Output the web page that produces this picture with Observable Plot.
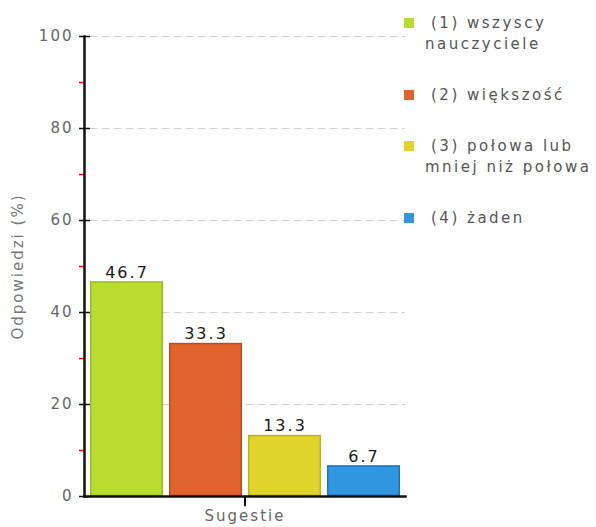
<!DOCTYPE html>
<html>
<head>
<meta charset="utf-8">
<script src="https://cdn.jsdelivr.net/npm/d3@7"></script>
<script src="https://cdn.jsdelivr.net/npm/@observablehq/plot@0.6"></script>
<style>
  body { margin: 0; background: #fff; }
  #wrap { position: relative; width: 596px; height: 527px; font-family: "DejaVu Sans", Verdana, sans-serif; }
  #legend { position: absolute; left: 404px; top: 13px; width: 192px; }
  .item { position: relative; margin-bottom: 30px; font-size: 15px; line-height: 21px; color: #555; letter-spacing: 2.5px; }
  .sw { position: absolute; left: 0; top: 5px; width: 10px; height: 10px; }
  .lbl { margin-left: 21px; text-indent: 6px; white-space: pre; }
</style>
</head>
<body>
<div id="wrap"></div>
<script>
const categories = ["(1) wszyscy nauczyciele", "(2) większość", "(3) połowa lub mniej niż połowa", "(4) żaden"];
const legendLabels = ["(1) wszyscy\nnauczyciele", "(2) większość", "(3) połowa lub\nmniej niż połowa", "(4) żaden"];
const values = [46.7, 33.3, 13.3, 6.7];
const fills = ["#b9dd2f", "#e0622c", "#e0d42c", "#3096e0"];
const strokes = ["#9bbb1c", "#c24a1a", "#bfb21a", "#1c74bb"];
const yTicks = [0, 20, 40, 60, 80, 100];
const yMinorTicks = [10, 30, 50, 70, 90];
const xTitle = "Sugestie";
const yTitle = "Odpowiedzi (%)";

const data = categories.map((c, i) => ({cat: c, value: values[i], fill: fills[i], stroke: strokes[i]}));

const chart = Plot.plot({
  width: 596,
  height: 527,
  marginLeft: 84,
  marginRight: 191,
  marginTop: 36,
  marginBottom: 31,
  style: {fontFamily: "DejaVu Sans, Verdana, sans-serif", fontSize: "15px", letterSpacing: "2px", background: "transparent"},
  x: {type: "band", domain: categories, range: [87, 403], paddingInner: 0.08, paddingOuter: 0.04, axis: null},
  y: {domain: [0, 100], axis: null},
  marks: [
    Plot.gridY(yTicks.filter(d => d > 0), {stroke: "#d0d0d0", strokeOpacity: 1, strokeWidth: 1.2, strokeDasharray: "7,5", insetLeft: 6}),
    Plot.barY(data, {x: "cat", y: "value", fill: d => d.fill, stroke: d => d.stroke, strokeWidth: 1.5, inset: 0.75}),
    Plot.text(data, {x: "cat", y: "value", text: d => d.value.toFixed(1), dy: -4, lineAnchor: "bottom", fill: "#1a1a1a", fontSize: 16, letterSpacing: "2.5px"}),
    Plot.axisY({ticks: yMinorTicks, tickSize: 5, dx: 0, stroke: "#ff0000", strokeWidth: 1.5, tickFormat: () => "", label: null}),
    Plot.axisY({ticks: yTicks, tickSize: 11, dx: 6, tickPadding: 6, stroke: "#111", strokeWidth: 1.5, fill: "#666", fontSize: 15, label: null}),
    Plot.frame({anchor: "left", stroke: "#111", strokeWidth: 2.5}),
    Plot.frame({anchor: "bottom", stroke: "#111", strokeWidth: 2.5}),
    Plot.vector([0], {frameAnchor: "bottom", length: 9, rotate: 180, anchor: "start", stroke: "#111", strokeWidth: 2,
      shape: {draw(context, l) { context.moveTo(0, 0); context.lineTo(0, -l); }}}),
    Plot.text([xTitle], {frameAnchor: "bottom", text: d => d, dy: 20, dx: 0, textAnchor: "middle", lineAnchor: "middle", fill: "#666", fontSize: 15}),
    Plot.text([yTitle], {frameAnchor: "left", text: d => d, dx: -66, rotate: -90, textAnchor: "middle", lineAnchor: "middle", fill: "#777", fontSize: 15})
  ]
});

const wrap = document.getElementById("wrap");
wrap.appendChild(chart);
const legend = document.createElement("div");
legend.id = "legend";
legendLabels.forEach((lab, i) => {
  const item = document.createElement("div");
  item.className = "item";
  const sw = document.createElement("div");
  sw.className = "sw";
  sw.style.background = fills[i];
  const t = document.createElement("div");
  t.className = "lbl";
  t.textContent = lab;
  item.appendChild(sw);
  item.appendChild(t);
  legend.appendChild(item);
});
wrap.appendChild(legend);
</script>
</body>
</html>
